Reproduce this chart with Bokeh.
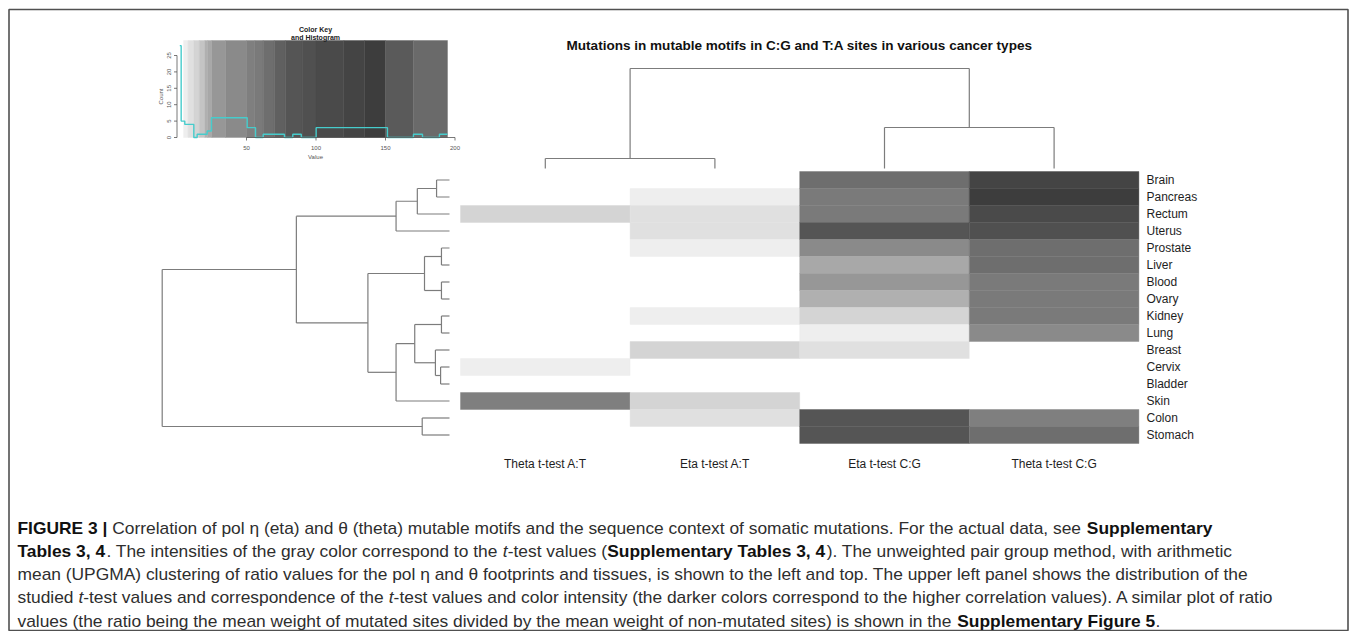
import math
from bokeh.plotting import figure
from bokeh.models import Range1d
from bokeh.embed import file_html
from bokeh.resources import INLINE
from bokeh.core.properties import value

# ---------------------------------------------------------------- data
chart_title = "Mutations in mutable motifs in C:G and T:A sites in various cancer types"
tissues = ["Brain", "Pancreas", "Rectum", "Uterus", "Prostate", "Liver", "Blood", "Ovary",
           "Kidney", "Lung", "Breast", "Cervix", "Bladder", "Skin", "Colon", "Stomach"]
test_columns = ["Theta t-test A:T", "Eta t-test A:T", "Eta t-test C:G", "Theta t-test C:G"]

# estimated t-test values (0 = below the colour key range -> white)
theta_at = [0, 0, 14, 0, 0, 0, 0, 0, 0, 0, 0, 6, 0, 53, 0, 0]
eta_at   = [0, 6, 10, 10, 6, 0, 0, 0, 6, 0, 14, 0, 0, 14, 10, 0]
eta_cg   = [66, 59, 59, 84, 42, 23, 30, 21, 14, 6, 10, 0, 0, 0, 84, 84]
theta_cg = [128, 140, 110, 95, 66, 66, 59, 59, 59, 42, 0, 0, 0, 0, 53, 66]

# UPGMA merges: (child a, child b, height) ; new node ids follow the leaves
row_merges = [(0, 1, 0.045), (16, 2, 0.112), (17, 3, 0.186), (4, 5, 0.028), (6, 7, 0.028),
              (19, 20, 0.087), (8, 9, 0.028), (11, 12, 0.031), (10, 23, 0.049),
              (22, 24, 0.121), (25, 13, 0.186), (21, 26, 0.284), (18, 27, 0.533),
              (14, 15, 0.095), (28, 29, 1.0)]
col_merges = [(0, 1, 0.10), (2, 3, 0.41), (4, 5, 1.0)]

# colour key: breaks (t-test value) and grey level of each band
key_breaks = [4.7, 8, 12, 16, 20, 22, 25, 35, 50, 56, 62, 70, 78, 90, 100, 120, 135, 150, 170, 194.6]
key_grays = [238, 224, 212, 196, 176, 168, 151, 138, 127, 122, 110, 96, 85, 80, 74, 68, 61, 90, 106]
# histogram of the t-test values
hist_edges = [2.0, 3.0, 5.6, 12.1, 14.5, 21.7, 24.8, 50.5, 56.5, 62.0, 77.3, 83.3, 89.4,
              100.1, 151.4, 170.1, 176.6, 188.8, 194.6]
hist_counts = [28, 5, 4, 0, 1, 2, 6, 3, 0, 1, 0, 1, 0, 3, 0, 1, 0, 1]
key_xticks = [50, 100, 150, 200]
key_yticks = [0, 5, 10, 15, 20, 25]

caption_lines = [
    [("FIGURE 3 | ", "bold"),
     ("Correlation of pol \u03b7 (eta) and \u03b8 (theta) mutable motifs and the sequence context of somatic mutations. For the actual data, see ", "normal"),
     ("Supplementary", "bold")],
    [("Tables 3, 4", "bold"), (". The intensities of the gray color correspond to the ", "normal"),
     ("t", "italic"), ("-test values (", "normal"), ("Supplementary Tables 3, 4", "bold"),
     ("). The unweighted pair group method, with arithmetic", "normal")],
    [("mean (UPGMA) clustering of ratio values for the pol \u03b7 and \u03b8 footprints and tissues, is shown to the left and top. The upper left panel shows the distribution of the", "normal")],
    [("studied ", "normal"), ("t", "italic"), ("-test values and correspondence of the ", "normal"),
     ("t", "italic"),
     ("-test values and color intensity (the darker colors correspond to the higher correlation values). A similar plot of ratio", "normal")],
    [("values (the ratio being the mean weight of mutated sites divided by the mean weight of non-mutated sites) is shown in the ", "normal"),
     ("Supplementary Figure 5", "bold"), (".", "normal")],
]

# ---------------------------------------------------------------- font metrics (Arial / Liberation Sans)
UP = "ABCDEFGHIJKLMNOPQRSTUVWXYZ"
LO = "abcdefghijklmnopqrstuvwxyz"
REG = dict(zip(UP, [667, 667, 722, 722, 667, 611, 778, 722, 278, 500, 667, 556, 833, 722, 778, 667, 778, 722, 667, 611, 722, 667, 944, 667, 667, 611]))
REG.update(zip(LO, [556, 556, 500, 556, 556, 278, 556, 556, 222, 222, 500, 222, 833, 556, 556, 556, 556, 333, 500, 278, 556, 500, 722, 500, 500, 500]))
REG.update({' ': 278, '(': 333, ')': 333, ',': 278, '-': 333, '.': 278, ':': 278, ';': 278, '|': 260})
BOLD = dict(zip(UP, [722, 722, 722, 722, 667, 611, 778, 722, 278, 556, 722, 611, 833, 722, 778, 667, 778, 722, 667, 611, 722, 667, 944, 667, 667, 611]))
BOLD.update(zip(LO, [556, 611, 556, 611, 556, 333, 611, 611, 278, 278, 556, 278, 889, 611, 611, 611, 611, 389, 556, 333, 611, 556, 778, 556, 556, 500]))
BOLD.update({' ': 278, '(': 333, ')': 333, ',': 278, '-': 333, '.': 278, ':': 333, ';': 333, '|': 280})
for d in (REG, BOLD):
    for c in "0123456789":
        d[c] = 556


def units(s, style="normal"):
    t = BOLD if style == "bold" else REG
    return sum(t.get(c, 556) for c in s) / 1000.0


# ---------------------------------------------------------------- layout (screen pixels)
W, H = 1350, 631
FONT = "Liberation Sans"
HM_X0, HM_X1, HM_Y0, HM_Y1 = 460.0, 1138.4, 171.0, 443.0
ROW_LEAF_X, ROW_ROOT_X = 449.0, 161.7
COL_LEAF_Y, COL_ROOT_Y = 168.0, 68.0
K_X0, K_XS = 176.5, 1.39          # colour-key value axis
K_Y0, K_YS, K_TOP = 137.0, 3.28, 40.0

p = figure(width=W, height=H, x_range=Range1d(0, W), y_range=Range1d(H, 0),
           output_backend="svg", toolbar_location=None, min_border=0,
           x_axis_location=None, y_axis_location=None)
p.grid.visible = False
p.outline_line_color = None
p.background_fill_color = "white"


def txt(xs, ys, texts, size, style="normal", color="#222222", align="left",
        baseline="middle", angle=0.0):
    p.text(x=xs, y=ys, text=texts, text_font=value(FONT), text_font_size=value("%.2fpx" % size),
           text_font_style=value(style), text_color=value(color), text_align=value(align),
           text_baseline=value(baseline), angle=angle)


# frame
p.quad(left=[8.5], right=[1347.5], top=[9.0], bottom=[630.0], fill_color=None,
       line_color="#505050", line_width=1.6)

# ---------------------------------------------------------------- heatmap
def gray_for(v):
    for k in range(len(key_grays)):
        if key_breaks[k] <= v < key_breaks[k + 1]:
            g = key_grays[k]
            return "#%02x%02x%02x" % (g, g, g)
    return None


cw = (HM_X1 - HM_X0) / len(test_columns)
rh = (HM_Y1 - HM_Y0) / len(tissues)
L, R, T, B, C = [], [], [], [], []
for j, col in enumerate([theta_at, eta_at, eta_cg, theta_cg]):
    for i, v in enumerate(col):
        c = gray_for(v)
        if c is None:
            continue
        L.append(HM_X0 + j * cw); R.append(HM_X0 + (j + 1) * cw)
        T.append(HM_Y0 + i * rh); B.append(HM_Y0 + (i + 1) * rh); C.append(c)
p.quad(left=L, right=R, top=T, bottom=B, fill_color=C, line_color=C, line_width=0.4)

# ---------------------------------------------------------------- dendrograms
def dendro(n, merges, leaf_pos):
    pos = {i: leaf_pos[i] for i in range(n)}
    hgt = {i: 0.0 for i in range(n)}
    segs = []
    for k, (a, b, h) in enumerate(merges):
        for c in (a, b):
            segs.append((pos[c], hgt[c], pos[c], h))
        segs.append((pos[a], h, pos[b], h))
        pos[n + k] = (pos[a] + pos[b]) / 2.0
        hgt[n + k] = h
    return segs, max(m[2] for m in merges)


row_centers = [HM_Y0 + (i + 0.5) * rh for i in range(len(tissues))]
segs, rmax = dendro(len(tissues), row_merges, row_centers)
hx = lambda h: ROW_LEAF_X - h / rmax * (ROW_LEAF_X - ROW_ROOT_X)
p.segment(x0=[hx(s[1]) for s in segs], y0=[s[0] for s in segs],
          x1=[hx(s[3]) for s in segs], y1=[s[2] for s in segs],
          line_color="#7c7c7c", line_width=1.2)

col_centers = [HM_X0 + (j + 0.5) * cw for j in range(len(test_columns))]
segs, cmax = dendro(len(test_columns), col_merges, col_centers)
hy = lambda h: COL_LEAF_Y - h / cmax * (COL_LEAF_Y - COL_ROOT_Y)
p.segment(x0=[s[0] for s in segs], y0=[hy(s[1]) for s in segs],
          x1=[s[2] for s in segs], y1=[hy(s[3]) for s in segs],
          line_color="#7c7c7c", line_width=1.2)

# labels
txt([HM_X1 + 7.6] * len(tissues), row_centers, tissues, 12, color="#1e1e1e")
txt(col_centers, [463] * len(test_columns), test_columns, 12, color="#1e1e1e", align="center")
title_size = 468.0 / units(chart_title, "bold")
txt([799], [45], [chart_title], title_size, style="bold", color="#111111", align="center")

# ---------------------------------------------------------------- colour key
kx = lambda v: K_X0 + v * K_XS
ky = lambda c: K_Y0 - c * K_YS
kc = ["#%02x%02x%02x" % (g, g, g) for g in key_grays]
p.quad(left=[kx(b) for b in key_breaks[:-1]], right=[kx(b) for b in key_breaks[1:]],
       top=[K_TOP] * len(key_grays), bottom=[K_Y0] * len(key_grays),
       fill_color=kc, line_color=kc, line_width=0.4)
hxs, hys = [], []
for k, c in enumerate(hist_counts):
    hxs += [kx(hist_edges[k]), kx(hist_edges[k + 1])]
    hys += [ky(c), ky(c)]
p.line(hxs, hys, line_color="#46cccc", line_width=1.4)

axc = "#555555"
# y axis
p.segment(x0=[kx(0)], y0=[ky(key_yticks[0])], x1=[kx(0)], y1=[ky(key_yticks[-1])], line_color=axc, line_width=0.8)
p.segment(x0=[kx(0)] * len(key_yticks), y0=[ky(t) for t in key_yticks],
          x1=[kx(0) - 3] * len(key_yticks), y1=[ky(t) for t in key_yticks], line_color=axc, line_width=0.8)
txt([kx(0) - 8] * len(key_yticks), [ky(t) for t in key_yticks], [str(t) for t in key_yticks], 6,
    color="#555555", align="center", angle=math.pi / 2)
txt([kx(0) - 16], [ky(12.5)], ["Count"], 6, color="#555555", align="center", angle=math.pi / 2)
# x axis
p.segment(x0=[kx(key_xticks[0])], y0=[K_Y0], x1=[kx(key_xticks[-1])], y1=[K_Y0], line_color=axc, line_width=0.8)
p.segment(x0=[kx(t) for t in key_xticks], y0=[K_Y0] * len(key_xticks),
          x1=[kx(t) for t in key_xticks], y1=[K_Y0 + 3] * len(key_xticks), line_color=axc, line_width=0.8)
txt([kx(t) for t in key_xticks], [K_Y0 + 10] * len(key_xticks), [str(t) for t in key_xticks], 6,
    color="#555555", align="center")
kmid = (kx(key_breaks[0]) + kx(key_breaks[-1])) / 2
txt([kmid], [K_Y0 + 19], ["Value"], 6, color="#555555", align="center")
txt([kmid], [29], ["Color Key"], 7, style="bold", color="#222222", align="center")
txt([kmid], [36.5], ["and Histogram"], 7, style="bold", color="#222222", align="center")

# ---------------------------------------------------------------- caption
CAP_X0, CAP_W1, CAP_Y0, CAP_DY = 17.0, 1195.0, 527.0, 23.3
cap_size = CAP_W1 / sum(units(s, st) for s, st in caption_lines[0])
for li, line in enumerate(caption_lines):
    x = CAP_X0
    y = CAP_Y0 + li * CAP_DY
    for s, st in line:
        txt([x], [y], [s], cap_size, style=st,
            color="#111111" if st == "bold" else "#2e2e2e")
        x += units(s, st) * cap_size

open("out.html", "w").write(file_html(p, INLINE))
